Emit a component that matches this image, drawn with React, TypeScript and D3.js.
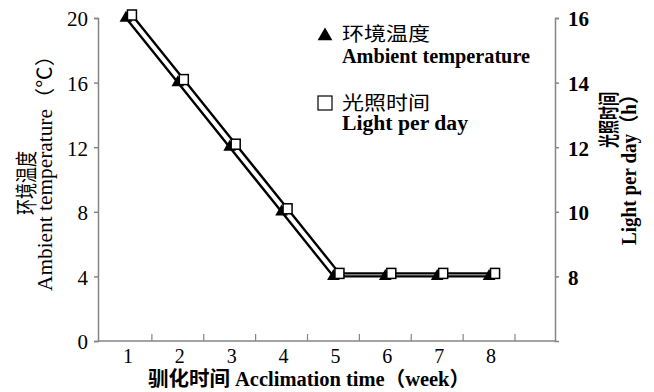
import { useEffect, useRef } from "react";
import * as d3 from "d3";

// chart values
const weeks = ["1", "2", "3", "4", "5", "6", "7", "8"];
const temperature = [20, 16, 12, 8, 4, 4, 4, 4];
const lightHours = [16, 14, 12, 10, 8, 8, 8, 8];
const tempTicks = [0, 4, 8, 12, 16, 20];
const lightTicks = [8, 10, 12, 14, 16];

const LATIN = '"Liberation Serif", "Times New Roman", serif';
const MIXED = '"Liberation Serif", "Noto Sans CJK SC", serif';
const AXIS_GRAY = "#858585";

export default function App() {
  const svgRef = useRef<SVGSVGElement>(null);

  useEffect(() => {
    if (!svgRef.current) return;
    const svg = d3.select(svgRef.current);
    svg.selectAll("*").remove();

    const width = 654;
    const height = 392;
    const left = 98;
    const right = 555;
    const top = 18;
    const bottom = 341;

    const x = d3.scaleBand<string>().domain(weeks).range([100, 515]);
    const yL = d3.scaleLinear().domain([0, 20]).range([bottom, top]);
    const yR = d3.scaleLinear().domain([6, 16]).range([bottom, top]);
    const cx = (i: number) => (x(weeks[i]) ?? 0) + x.bandwidth() / 2;

    svg.attr("width", width).attr("height", height);

    // left axis
    const gl = svg
      .append("g")
      .attr("transform", `translate(${left},0)`)
      .call(d3.axisLeft(yL).tickValues(tempTicks).tickSize(4).tickPadding(6));
    gl.attr("font-family", LATIN);
    gl.select(".domain").attr("stroke", AXIS_GRAY).attr("stroke-width", 1.5);
    gl.selectAll(".tick line").attr("stroke", AXIS_GRAY).attr("stroke-width", 1.5);
    gl.selectAll(".tick text")
      .attr("fill", "#000")
      .attr("font-family", LATIN)
      .attr("font-size", "21px")
      .attr("dy", "0.38em");

    // right axis
    const gr = svg
      .append("g")
      .attr("transform", `translate(${right},0)`)
      .call(d3.axisRight(yR).tickValues(lightTicks).tickSize(4).tickPadding(9));
    gr.attr("font-family", LATIN);
    gr.select(".domain").attr("stroke", AXIS_GRAY).attr("stroke-width", 1.5);
    gr.selectAll(".tick line").attr("stroke", AXIS_GRAY).attr("stroke-width", 1.5);
    gr.selectAll(".tick text")
      .attr("fill", "#000")
      .attr("font-family", LATIN)
      .attr("font-size", "21px")
      .attr("font-weight", "bold")
      .attr("dy", "0.38em");

    // x axis: line, boundary ticks pointing up, centred labels
    svg
      .append("line")
      .attr("x1", left)
      .attr("x2", right)
      .attr("y1", bottom)
      .attr("y2", bottom)
      .attr("stroke", AXIS_GRAY)
      .attr("stroke-width", 1.5);

    svg
      .selectAll(".xtick")
      .data(weeks)
      .join("line")
      .attr("class", "xtick")
      .attr("x1", (d) => (x(d) ?? 0) + x.bandwidth())
      .attr("x2", (d) => (x(d) ?? 0) + x.bandwidth())
      .attr("y1", bottom)
      .attr("y2", bottom - 7)
      .attr("stroke", AXIS_GRAY)
      .attr("stroke-width", 1.2);

    svg
      .selectAll(".xlabel")
      .data(weeks)
      .join("text")
      .attr("class", "xlabel")
      .attr("x", (d) => (x(d) ?? 0) + x.bandwidth() / 2 + 2)
      .attr("y", 363)
      .attr("text-anchor", "middle")
      .attr("font-family", LATIN)
      .attr("font-size", "20px")
      .text((d) => d);

    // axis titles
    svg
      .append("text")
      .attr("x", 309)
      .attr("y", 386)
      .attr("text-anchor", "middle")
      .attr("font-family", MIXED)
      .attr("font-size", "20px")
      .attr("font-weight", "bold")
      .attr("textLength", 322)
      .attr("lengthAdjust", "spacingAndGlyphs")
      .text("驯化时间 Acclimation time（week）");

    svg
      .append("text")
      .attr("transform", "translate(34,183) rotate(-90)")
      .attr("text-anchor", "middle")
      .attr("font-family", MIXED)
      .attr("font-size", "22px")
      .attr("textLength", 64)
      .attr("lengthAdjust", "spacingAndGlyphs")
      .text("环境温度");

    svg
      .append("text")
      .attr("transform", "translate(52,168) rotate(-90)")
      .attr("text-anchor", "middle")
      .attr("font-family", MIXED)
      .attr("font-size", "20px")
      .attr("textLength", 246)
      .attr("lengthAdjust", "spacingAndGlyphs")
      .text("Ambient temperature（℃）");

    svg
      .append("text")
      .attr("transform", "translate(616,120) rotate(-90)")
      .attr("text-anchor", "middle")
      .attr("font-family", MIXED)
      .attr("font-size", "21px")
      .attr("font-weight", "bold")
      .attr("textLength", 56)
      .attr("lengthAdjust", "spacingAndGlyphs")
      .text("光照时间");

    svg
      .append("text")
      .attr("transform", "translate(636,165) rotate(-90)")
      .attr("text-anchor", "middle")
      .attr("font-family", MIXED)
      .attr("font-size", "20px")
      .attr("font-weight", "bold")
      .attr("textLength", 160)
      .attr("lengthAdjust", "spacingAndGlyphs")
      .text("Light per day（h）");

    // series
    const lightDx = 6;
    const lightDy = -3;

    const tempLine = d3
      .line<number>()
      .x((_, i) => cx(i))
      .y((d) => yL(d));
    const lightLine = d3
      .line<number>()
      .x((_, i) => cx(i) + lightDx)
      .y((d) => yR(d) + lightDy);

    svg
      .append("path")
      .attr("d", tempLine(temperature))
      .attr("fill", "none")
      .attr("stroke", "#000")
      .attr("stroke-width", 2.4);
    svg
      .append("path")
      .attr("d", lightLine(lightHours))
      .attr("fill", "none")
      .attr("stroke", "#000")
      .attr("stroke-width", 2.4);

    svg
      .selectAll(".tri")
      .data(temperature)
      .join("path")
      .attr("class", "tri")
      .attr("d", d3.symbol(d3.symbolTriangle, 70)())
      .attr("transform", (d, i) => `translate(${cx(i)},${yL(d)})`)
      .attr("fill", "#000");

    svg
      .selectAll(".sq")
      .data(lightHours)
      .join("rect")
      .attr("class", "sq")
      .attr("x", (_, i) => cx(i) + lightDx - 4.5)
      .attr("y", (d) => yR(d) + lightDy - 5)
      .attr("width", 9)
      .attr("height", 10)
      .attr("fill", "#fff")
      .attr("stroke", "#000")
      .attr("stroke-width", 1.5);

    // legend
    const legend = svg.append("g");
    legend
      .append("path")
      .attr("d", d3.symbol(d3.symbolTriangle, 95)())
      .attr("transform", "translate(325,36)")
      .attr("fill", "#000");
    legend
      .append("rect")
      .attr("x", 318)
      .attr("y", 96)
      .attr("width", 14)
      .attr("height", 14)
      .attr("fill", "#fff")
      .attr("stroke", "#000")
      .attr("stroke-width", 1.2);

    const legendText = [
      { t: "环境温度", y: 41, len: 88, size: 19, weight: "normal", font: MIXED },
      { t: "Ambient temperature", y: 63, len: 188, size: 20, weight: "bold", font: LATIN },
      { t: "光照时间", y: 110, len: 88, size: 19, weight: "normal", font: MIXED },
      { t: "Light per day", y: 130, len: 126, size: 20, weight: "bold", font: LATIN },
    ];
    legend
      .selectAll("text")
      .data(legendText)
      .join("text")
      .attr("x", 342)
      .attr("y", (d) => d.y)
      .attr("font-family", (d) => d.font)
      .attr("font-size", (d) => `${d.size}px`)
      .attr("font-weight", (d) => d.weight)
      .attr("textLength", (d) => d.len)
      .attr("lengthAdjust", "spacingAndGlyphs")
      .text((d) => d.t);
  }, []);

  return (
    <svg
      ref={svgRef}
      style={{ position: "absolute", left: 0, top: 0, display: "block", background: "#fff" }}
    />
  );
}
